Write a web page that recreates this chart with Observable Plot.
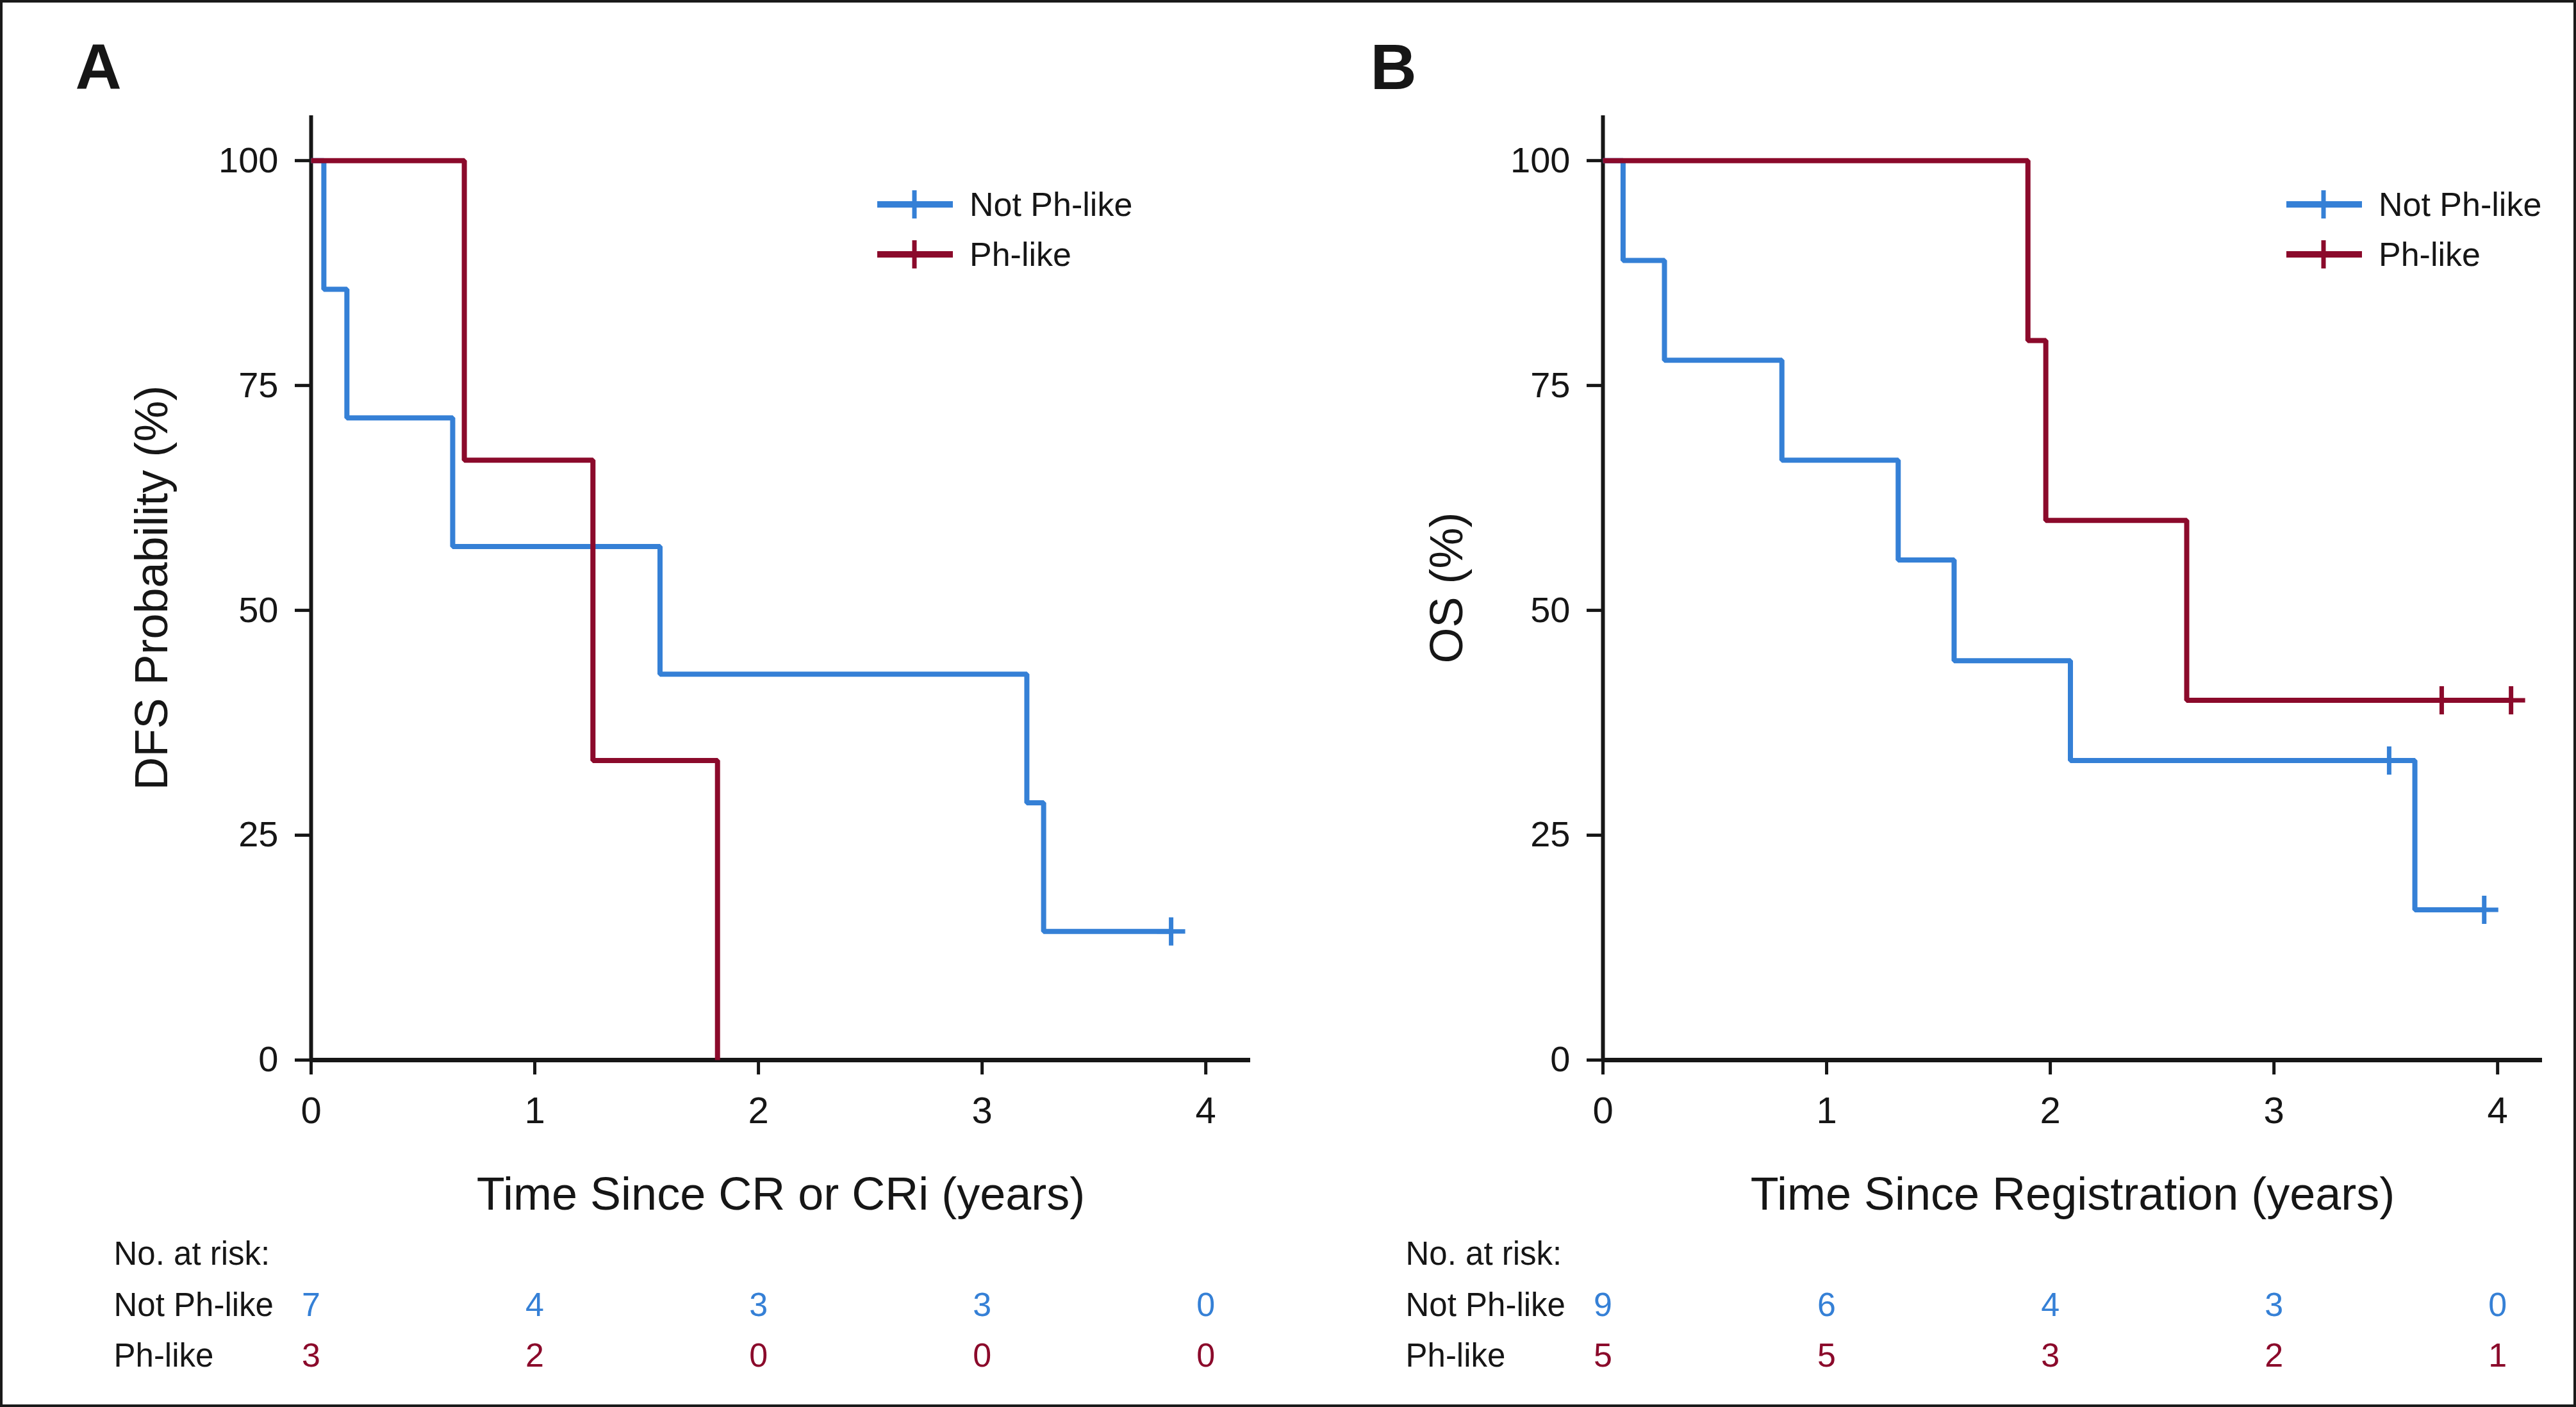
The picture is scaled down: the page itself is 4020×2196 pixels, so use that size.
<!DOCTYPE html>
<html>
<head>
<meta charset="utf-8">
<script src="https://cdn.jsdelivr.net/npm/d3@7"></script>
<script src="https://cdn.jsdelivr.net/npm/@observablehq/plot@0.6"></script>
<style>
html, body { margin: 0; padding: 0; background: #fff; }
#fig { position: relative; width: 4020px; height: 2196px; background: #fff; overflow: hidden; }
#frame { position: absolute; left: 0; top: 0; width: 4020px; height: 2196px; box-sizing: border-box; border: 4px solid #1a1a1a; pointer-events: none; }
.panel { position: absolute; top: 0; width: 2010px; height: 2196px; }
</style>
</head>
<body>
<div id="fig"><div id="frame"></div></div>
<script>
const BLUE = "#3580d6";
const RED = "#8b0a2b";
const INK = "#161616";
const FONT = "'Liberation Sans', Arial, Helvetica, sans-serif";

const groups = ["Not Ph-like", "Ph-like"];
const yTicks = [0, 25, 50, 75, 100];
const xTicks = [0, 1, 2, 3, 4];
const riskTimes = [0, 1, 2, 3, 4];

// Panel A: DFS
const dfsNotTime = [0, 0.057, 0.16, 0.633, 1.56, 3.20, 3.275, 3.845];
const dfsNotSurv = [100, 85.7, 71.4, 57.1, 42.9, 28.6, 14.3, 14.3];
const dfsNotCensor = [3.845];
const dfsPhTime = [0, 0.685, 1.26, 1.817];
const dfsPhSurv = [100, 66.7, 33.3, 0];
const dfsPhCensor = [];
const dfsRiskNot = [7, 4, 3, 3, 0];
const dfsRiskPh = [3, 2, 0, 0, 0];

// Panel B: OS
const osNotTime = [0, 0.09, 0.275, 0.80, 1.32, 1.57, 2.09, 3.63, 3.94];
const osNotSurv = [100, 88.9, 77.8, 66.7, 55.6, 44.4, 33.3, 16.7, 16.7];
const osNotCensor = [3.515, 3.94];
const osPhTime = [0, 1.90, 1.98, 2.61, 4.06];
const osPhSurv = [100, 80, 60, 40, 40];
const osPhCensor = [3.75, 4.06];
const osRiskNot = [9, 6, 4, 3, 0];
const osRiskPh = [5, 5, 3, 2, 1];

const crossSym = {
  draw(ctx, size) {
    const r = Math.sqrt(size / Math.PI);
    ctx.moveTo(-r, 0); ctx.lineTo(r, 0);
    ctx.moveTo(0, -r); ctx.lineTo(0, r);
  }
};

function stepAt(times, surv, t) {
  let s = surv[0];
  for (let i = 0; i < times.length; i++) if (times[i] <= t) s = surv[i];
  return s;
}

function makePanel(cfg) {
  const notData = cfg.notTime.map((t, i) => ({t, s: cfg.notSurv[i]}));
  const phData = cfg.phTime.map((t, i) => ({t, s: cfg.phSurv[i]}));
  const notCens = cfg.notCensor.map(t => ({t, s: stepAt(cfg.notTime, cfg.notSurv, t)}));
  const phCens = cfg.phCensor.map(t => ({t, s: stepAt(cfg.phTime, cfg.phSurv, t)}));
  const riskNot = riskTimes.map((t, i) => ({t, n: String(cfg.riskNot[i])}));
  const riskPh = riskTimes.map((t, i) => ({t, n: String(cfg.riskPh[i])}));
  const ml = cfg.ml;
  const svg = Plot.plot({
    width: 2010,
    height: 2196,
    marginLeft: ml,
    marginRight: cfg.mr,
    marginTop: 180,
    marginBottom: 542,
    x: {domain: [0, 4.2]},
    y: {domain: [0, 105]},
    style: {fontFamily: FONT, color: INK, background: "transparent", overflow: "visible"},
    marks: [
      Plot.axisY(yTicks, {tickSize: 25, tickPadding: 26, fontSize: 56, strokeWidth: 5, label: null, tickFormat: d => String(d)}),
      Plot.axisX(xTicks, {tickSize: 23, tickPadding: 34, fontSize: 58, strokeWidth: 5, label: null, tickFormat: d => String(d)}),
      Plot.ruleX([0], {y1: 0, y2: 105, stroke: INK, strokeWidth: 6}),
      Plot.ruleY([0], {x1: 0, x2: 4.2, stroke: INK, strokeWidth: 7}),
      Plot.line(notData, {x: "t", y: "s", curve: "step-after", stroke: BLUE, strokeWidth: 8, strokeLinejoin: "miter", strokeLinecap: "butt"}),
      Plot.dot(notCens, {x: "t", y: "s", symbol: crossSym, r: 22, stroke: BLUE, strokeWidth: 7, fill: "none"}),
      Plot.line(phData, {x: "t", y: "s", curve: "step-after", stroke: RED, strokeWidth: 8, strokeLinejoin: "miter", strokeLinecap: "butt"}),
      Plot.dot(phCens, {x: "t", y: "s", symbol: crossSym, r: 22, stroke: RED, strokeWidth: 7, fill: "none"}),
      Plot.text([cfg.letter], {frameAnchor: "top-left", dx: cfg.letterX - ml, dy: 138 - 180, textAnchor: "start", lineAnchor: "bottom", fontSize: 100, fontWeight: "bold", fill: INK}),
      Plot.text([cfg.ylabel], {frameAnchor: "left", rotate: -90, dx: cfg.ylabelDx, textAnchor: "middle", lineAnchor: "bottom", fontSize: 72, fill: INK}),
      Plot.text([cfg.xlabel], {frameAnchor: "bottom", dy: 233, lineAnchor: "bottom", fontSize: 72, fill: INK}),
      Plot.text(["No. at risk:"], {frameAnchor: "bottom-left", dx: -308, dy: 319, textAnchor: "start", lineAnchor: "bottom", fontSize: 51, fill: INK}),
      Plot.text([groups[0]], {frameAnchor: "bottom-left", dx: -308, dy: 399, textAnchor: "start", lineAnchor: "bottom", fontSize: 51, fill: INK}),
      Plot.text([groups[1]], {frameAnchor: "bottom-left", dx: -308, dy: 478, textAnchor: "start", lineAnchor: "bottom", fontSize: 51, fill: INK}),
      Plot.text(riskNot, {x: "t", text: "n", frameAnchor: "bottom", dy: 399, lineAnchor: "bottom", fontSize: 52, fill: BLUE}),
      Plot.text(riskPh, {x: "t", text: "n", frameAnchor: "bottom", dy: 478, lineAnchor: "bottom", fontSize: 52, fill: RED})
    ]
  });
  // in-plot legend
  const g = d3.select(svg).append("g").attr("font-family", FONT).attr("text-anchor", "start");
  const colors = [BLUE, RED];
  const rowsY = [319, 397];
  groups.forEach((name, i) => {
    const y = rowsY[i], x0 = cfg.legendX;
    g.append("line").attr("x1", x0).attr("x2", x0 + 118).attr("y1", y).attr("y2", y)
      .attr("stroke", colors[i]).attr("stroke-width", 10);
    g.append("line").attr("x1", x0 + 58).attr("x2", x0 + 58).attr("y1", y - 22).attr("y2", y + 22)
      .attr("stroke", colors[i]).attr("stroke-width", 7);
    g.append("text").attr("x", x0 + 144).attr("y", y + 18).attr("font-size", 52)
      .attr("text-anchor", "start").attr("fill", INK).text(name);
  });
  return svg;
}

const fig = document.getElementById("fig");
const panels = [
  {left: 0, letter: "A", letterX: 117, ml: 485, mr: 59, ylabelDx: -225, legendX: 1369,
   ylabel: "DFS Probability (%)", xlabel: "Time Since CR or CRi (years)",
   notTime: dfsNotTime, notSurv: dfsNotSurv, notCensor: dfsNotCensor,
   phTime: dfsPhTime, phSurv: dfsPhSurv, phCensor: dfsPhCensor,
   riskNot: dfsRiskNot, riskPh: dfsRiskPh},
  {left: 2010, letter: "B", letterX: 128, ml: 491, mr: 53, ylabelDx: -220, legendX: 1558,
   ylabel: "OS (%)", xlabel: "Time Since Registration (years)",
   notTime: osNotTime, notSurv: osNotSurv, notCensor: osNotCensor,
   phTime: osPhTime, phSurv: osPhSurv, phCensor: osPhCensor,
   riskNot: osRiskNot, riskPh: osRiskPh}
];
panels.forEach(cfg => {
  const div = document.createElement("div");
  div.className = "panel";
  div.style.left = cfg.left + "px";
  div.appendChild(makePanel(cfg));
  fig.insertBefore(div, document.getElementById("frame"));
});
</script>
</body>
</html>
